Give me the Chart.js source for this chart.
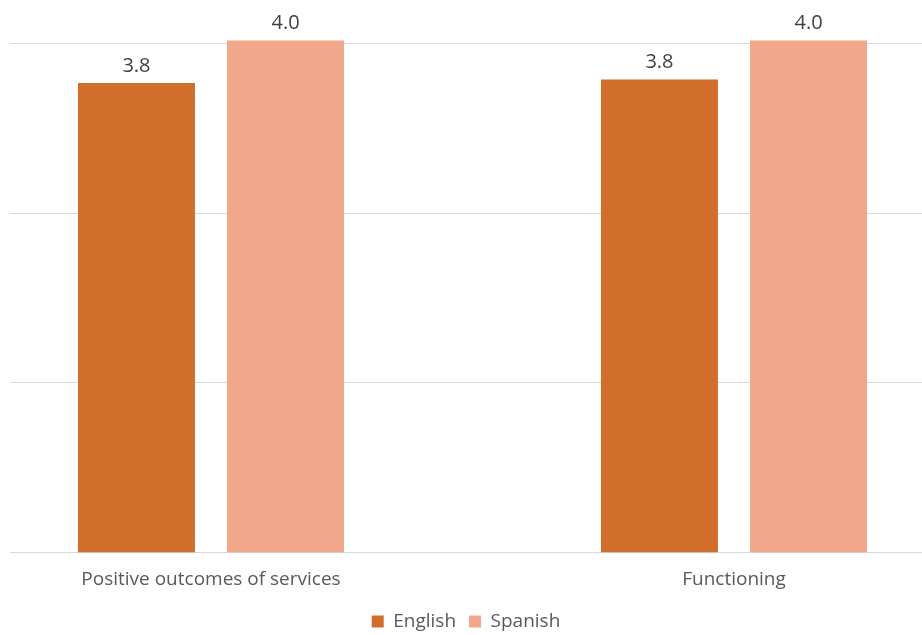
<!DOCTYPE html>
<html lang="en">
<head>
  <meta charset="UTF-8">
  <title>English vs Spanish</title>
  <script src="https://cdn.jsdelivr.net/npm/chart.js"></script>
  <style>
    html, body { margin: 0; padding: 0; background: #fff; overflow: hidden; }
    #wrap { width: 922px; height: 635px; }
  </style>
</head>
<body>
  <div id="wrap"><canvas id="canvas"></canvas></div>

  <script>
    const categories = ["Positive outcomes of services", "Functioning"];
    const english = [3.77, 3.79];
    const spanish = [4.02, 4.02];
    const gridValues = [1, 2, 3, 4];

    const toPoints = arr => arr.map((v, i) => ({ x: i, y: v }));

    // draws the value above each bar
    const valueLabels = {
      id: "valueLabels",
      afterDatasetsDraw(chart) {
        const ctx = chart.ctx;
        ctx.save();
        ctx.font = "20px 'Open Sans', sans-serif";
        ctx.fillStyle = "#404040";
        ctx.textAlign = "center";
        ctx.textBaseline = "bottom";
        chart.data.datasets.forEach((ds, i) => {
          chart.getDatasetMeta(i).data.forEach((bar, j) => {
            ctx.fillText(ds.data[j].y.toFixed(1), bar.x, bar.y - 7);
          });
        });
        ctx.restore();
      }
    };

    window.onload = function () {
      const ctx = document.getElementById("canvas").getContext("2d");
      new Chart(ctx, {
        type: "bar",
        data: {
          datasets: [
            { label: "English", backgroundColor: "#D26E2B", data: toPoints(english) },
            { label: "Spanish", backgroundColor: "#F1A78A", data: toPoints(spanish) }
          ]
        },
        options: {
          responsive: true,
          maintainAspectRatio: false,
          animation: false,
          categoryPercentage: 0.57,
          barPercentage: 0.785,
          layout: { padding: { left: 10, right: 0, top: 27, bottom: -6 } },
          plugins: {
            legend: {
              position: "bottom",
              labels: {
                boxWidth: 12,
                boxHeight: 12,
                padding: 13,
                color: "#595959",
                font: { family: "'Open Sans', sans-serif", size: 19 }
              }
            },
            tooltip: { enabled: false }
          },
          scales: {
            x: {
              type: "linear",
              min: -0.3843,
              max: 1.3595,
              offset: false,
              grid: { display: false },
              border: { display: false },
              afterBuildTicks: axis => { axis.ticks = categories.map((c, i) => ({ value: i })); },
              ticks: {
                color: "#595959",
                padding: 8,
                autoSkip: false,
                maxRotation: 0,
                font: { family: "'Open Sans', sans-serif", size: 19 },
                callback: v => categories[v]
              }
            },
            y: {
              min: 1,
              max: 4.1,
              afterBuildTicks: axis => { axis.ticks = gridValues.map(v => ({ value: v })); },
              grid: { color: "#d9d9d9", lineWidth: 1, drawTicks: false },
              border: { display: false },
              ticks: { display: false }
            }
          }
        },
        plugins: [valueLabels]
      });
    };
  </script>
</body>
</html>
